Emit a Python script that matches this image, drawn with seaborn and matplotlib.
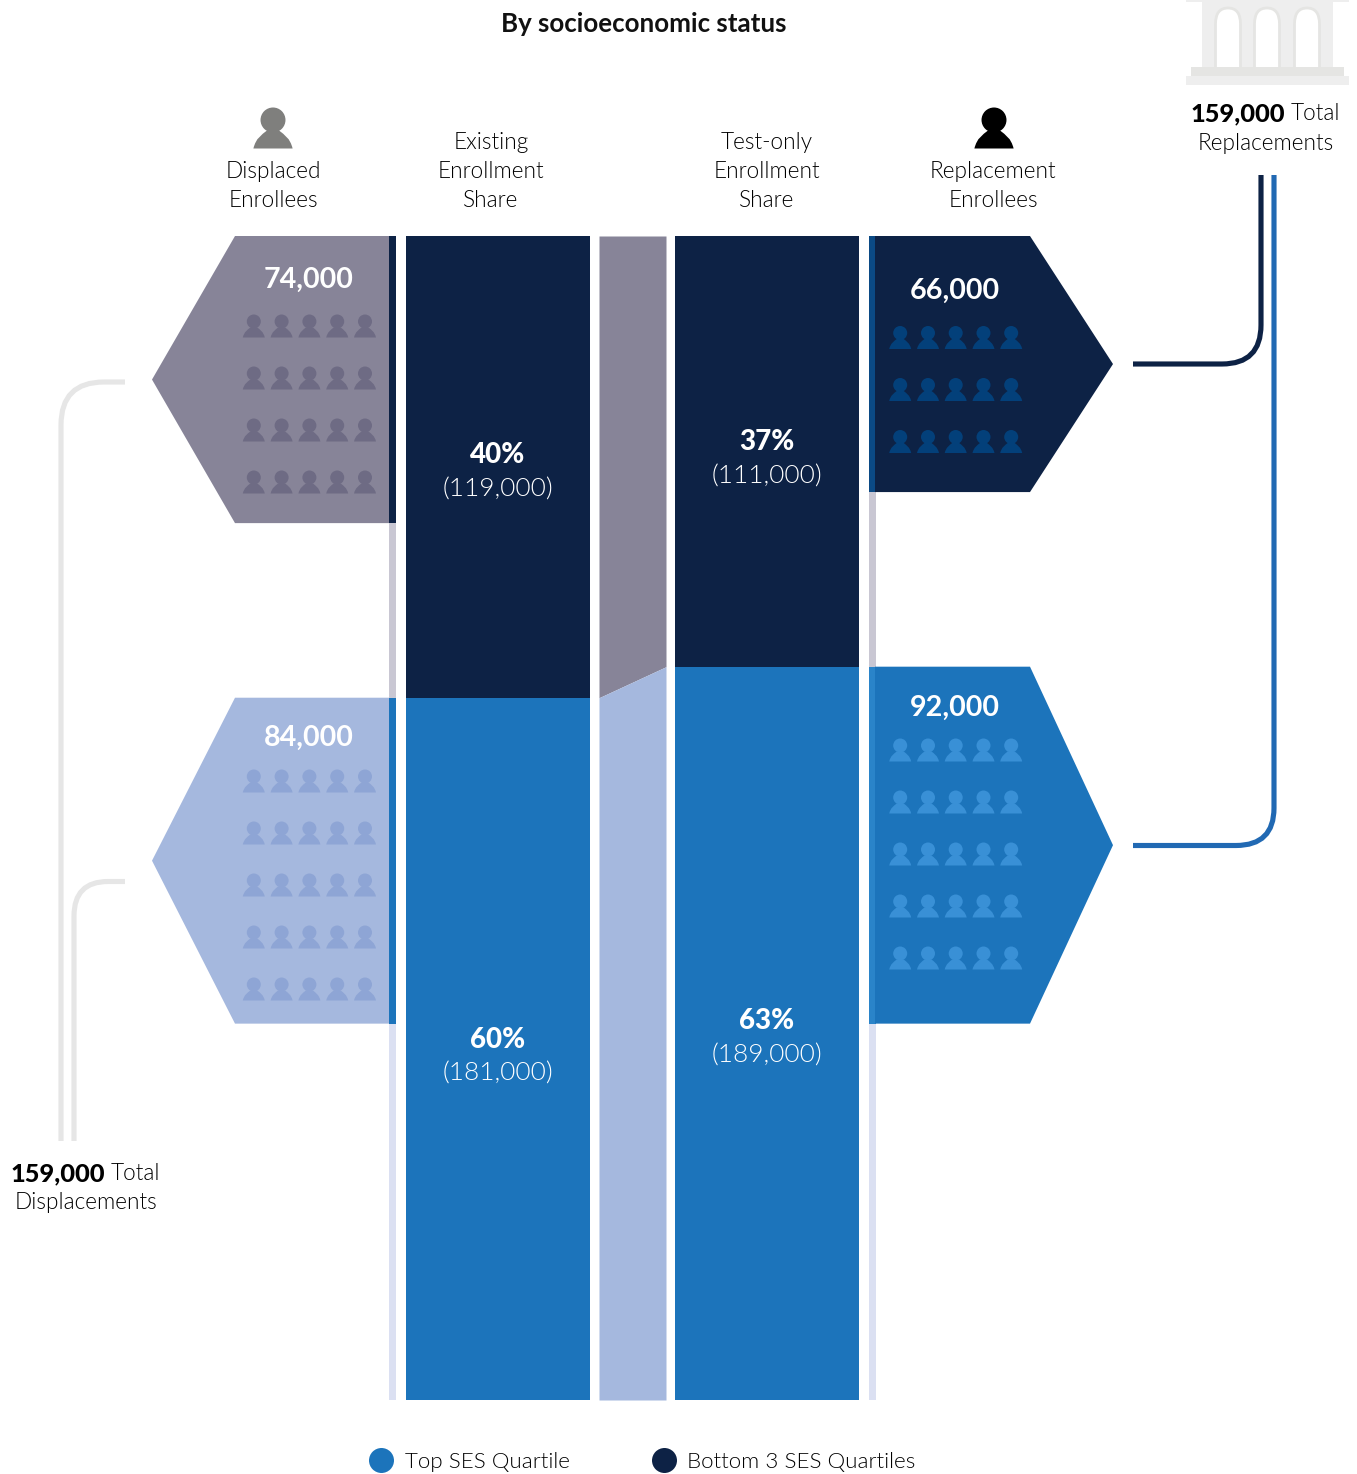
import matplotlib
matplotlib.use("Agg")
import matplotlib.pyplot as plt
from matplotlib.path import Path
from matplotlib.patches import PathPatch, Polygon, Ellipse
from matplotlib.lines import Line2D
import seaborn as sns

# ---- data ----
groups = ["Top SES Quartile", "Bottom 3 SES Quartiles"]
existing_share = [40, 60]
existing_count = [119000, 181000]
testonly_share = [37, 63]
testonly_count = [111000, 189000]
displaced = [74000, 84000]
replacement = [66000, 92000]
total_displacements = 159000
total_replacements = 159000
displaced_icon_rows = [4, 5]
replacement_icon_rows = [3, 5]

NAVY = "#0d2245"
BLUE = "#1c74bb"
GREY_P = "#878498"
LBLUE = "#a5b8de"
STRIP_GREY = "#c9c7d3"
STRIP_LIGHT = "#dbe0f2"
STRIP_NAVY = "#0b4a85"
STRIP_BLUE = "#2a84c9"
FONT = "Lato"
TXT = 16.3

W, H = 1357, 1474
TOP, BOT = 236, 1400
k = (BOT - TOP) / sum(existing_count)

sns.set_theme(style="white")
plt.rcParams["font.family"] = [FONT, "DejaVu Sans"]

fig = plt.figure(figsize=(W / 100, H / 100), dpi=100)
ax = fig.add_axes([0, 0, 1, 1])


def py(p):
    """pixel row -> enrollee scale"""
    return (p - TOP) / k


def stack(x0, x1, values, colors):
    base = 0
    for v, c in zip(values, colors):
        sns.barplot(x=[(x0 + x1) / 2], y=[v], bottom=base, native_scale=True,
                    width=x1 - x0, color=c, saturation=1, linewidth=0, ax=ax)
        base += v


# main columns
stack(406, 590, existing_count, [NAVY, BLUE])
stack(675, 859, testonly_count, [NAVY, BLUE])

# thin strips
stack(389, 396,
      [displaced[0], existing_count[0] - displaced[0], displaced[1], existing_count[1] - displaced[1]],
      [NAVY, STRIP_GREY, BLUE, STRIP_LIGHT])
stack(869, 876,
      [replacement[0], testonly_count[0] - replacement[0], replacement[1], testonly_count[1] - replacement[1]],
      [STRIP_NAVY, STRIP_GREY, STRIP_BLUE, STRIP_LIGHT])

# middle flow
total = sum(existing_count)
ax.fill_between([599, 666], [0, 0], [existing_count[0], testonly_count[0]], color=GREY_P, lw=0)
ax.fill_between([599, 666], [existing_count[0], testonly_count[0]], [total, total], color=LBLUE, lw=0)


def hexagon(xbase, xshoulder, xtip, y0, val, color):
    ax.add_patch(Polygon([(xbase, y0), (xshoulder, y0), (xtip, y0 + val / 2),
                          (xshoulder, y0 + val), (xbase, y0 + val)],
                         closed=True, fc=color, ec="none"))


hexagon(389, 235, 152, 0, displaced[0], GREY_P)
hexagon(389, 235, 152, existing_count[0], displaced[1], LBLUE)
hexagon(875, 1030, 1113, 0, replacement[0], NAVY)
hexagon(875, 1030, 1113, testonly_count[0], replacement[1], BLUE)


def person(cx, cy, size, color):
    """head-and-shoulders glyph; cx,cy are pixel centre, size is pixel height"""
    s = size / 23.0
    hr = 7.0 * s
    hy = cy - 11.5 * s + hr
    ax.add_patch(Ellipse((cx, py(hy)), 2 * hr, 2 * hr / k, fc=color, ec="none"))
    b = cy + 11.5 * s
    pts = [(cx - 11 * s, b),
           (cx - 9.5 * s, b - 6 * s), (cx - 6.5 * s, b - 7.5 * s), (cx - 3.5 * s, b - 10 * s),
           (cx + 3.5 * s, b - 10 * s),
           (cx + 6.5 * s, b - 7.5 * s), (cx + 9.5 * s, b - 6 * s), (cx + 11 * s, b),
           (cx - 11 * s, b)]
    codes = [Path.MOVETO, Path.CURVE4, Path.CURVE4, Path.CURVE4, Path.LINETO,
             Path.CURVE4, Path.CURVE4, Path.CURVE4, Path.CLOSEPOLY]
    ax.add_patch(PathPatch(Path([(x, py(y)) for x, y in pts], codes), fc=color, ec="none"))


def icon_grid(xs, first_row, n_rows, color, step=52):
    for r in range(n_rows):
        for x in xs:
            person(x, first_row + r * step, 23, color)


left_xs = [253.8, 281.6, 309.4, 337.2, 365]
right_xs = [900.2, 928, 955.7, 983.5, 1011.2]
icon_grid(left_xs, 326, displaced_icon_rows[0], "#6e6b84")
icon_grid(left_xs, 781, displaced_icon_rows[1], "#8ea5d5")
icon_grid(right_xs, 337.5, replacement_icon_rows[0], "#03407a")
icon_grid(right_xs, 750, replacement_icon_rows[1], "#3990d6")

person(273, 128, 41, "#7f7f7d")
person(994, 128, 41, "#000000")


def T(x, y, s, size=TXT, color="#000000", weight=400, ha="center"):
    return ax.text(x, py(y - 0.5), s, fontsize=size, color=color, fontweight=weight,
                   ha=ha, va="center_baseline")


T(644, 23, "By socioeconomic status", size=18.6, color="#111111", weight=700)

headers = [(273, [(170, "Displaced"), (199, "Enrollees")]),
           (491, [(141, "Existing"), (170, "Enrollment"), (199, "Share")]),
           (767, [(141, "Test-only"), (170, "Enrollment"), (199, "Share")]),
           (993, [(170, "Replacement"), (199, "Enrollees")])]
for x, lines in headers:
    for y, s in lines:
        T(x, y, s, weight=300)

for (x, y), v in zip([(309, 278), (309, 736)], displaced):
    T(x, y, f"{v:,}", size=20.6, color="white", weight=700)
for (x, y), v in zip([(955, 289), (955, 706)], replacement):
    T(x, y, f"{v:,}", size=20.6, color="white", weight=700)

for x, ys, shares, counts in [(497.5, [(453, 488), (1038, 1072)], existing_share, existing_count),
                              (767, [(440, 475), (1019, 1054)], testonly_share, testonly_count)]:
    for (y1, y2), s, c in zip(ys, shares, counts):
        T(x, y1, f"{s}%", size=20, color="white", weight=900)
        T(x, y2, f"({c:,})", size=18.8, color="white", weight=300)

# totals
T(1191, 112, f"{total_replacements:,}", size=18.3, color="#000000", weight=900, ha="left")
T(1291, 112, "Total", ha="left", weight=300)
T(1266, 142, "Replacements", weight=300)
T(11, 1172, f"{total_displacements:,}", size=18.3, color="#000000", weight=900, ha="left")
T(111, 1172, "Total", ha="left", weight=300)
T(86, 1201, "Displacements", weight=300)


def connector(pts, codes, color):
    ax.add_patch(PathPatch(Path([(x, py(y)) for x, y in pts], codes), fc="none", ec=color,
                           lw=3.7, capstyle="butt", joinstyle="round"))


C = [Path.MOVETO, Path.LINETO, Path.CURVE3, Path.CURVE3, Path.LINETO]
connector([(125, 382), (104, 382), (61, 382), (61, 425), (61, 1141)], C, "#e6e6e6")
connector([(125, 881.5), (108, 881.5), (74, 881.5), (74, 916), (74, 1141)], C, "#e6e6e6")
connector([(1133, 364), (1222, 364), (1261, 364), (1261, 325), (1261, 175)], C, NAVY)
connector([(1133, 845.5), (1236, 845.5), (1274, 845.5), (1274, 808), (1274, 175)], C, "#2169b3")

# building
BL = "#eeeeee"
BD = "#e5e5e3"
ax.fill_between([1186, 1349], py(0), py(2), color=BL, lw=0)
ax.fill_between([1202, 1333], py(2), py(67), color=BL, lw=0)
for cx in [1228, 1267, 1307]:
    verts = [(cx - 12.5, 67), (cx - 12.5, 24), (cx - 12.5, 8), (cx, 8), (cx + 12.5, 8), (cx + 12.5, 24), (cx + 12.5, 67)]
    cs = [Path.MOVETO, Path.LINETO, Path.CURVE3, Path.CURVE3, Path.CURVE3, Path.CURVE3, Path.LINETO]
    ax.add_patch(PathPatch(Path([(x, py(y)) for x, y in verts], cs), fc="white", ec=BD, lw=2))
ax.fill_between([1191, 1344], py(67), py(76), color=BD, lw=0)
ax.fill_between([1186, 1349], py(76), py(85), color=BL, lw=0)

# legend
handles = [Line2D([], [], ls="none", marker="o", ms=18, mfc=c, mec="none") for c in [BLUE, NAVY]]
leg = ax.legend(handles, groups, ncols=2, frameon=False, prop={"size": 16.1, "weight": 300},
                loc="center", bbox_to_anchor=(643 / W, 1 - 1462 / H),
                bbox_transform=fig.transFigure, handlelength=1.0, handletextpad=0.55,
                columnspacing=3.7, labelcolor="#000000")

ax.set_xlim(0, W)
ax.set_ylim(py(H), py(0))
ax.axis("off")
fig.savefig("out.png", dpi=100, facecolor="white")
